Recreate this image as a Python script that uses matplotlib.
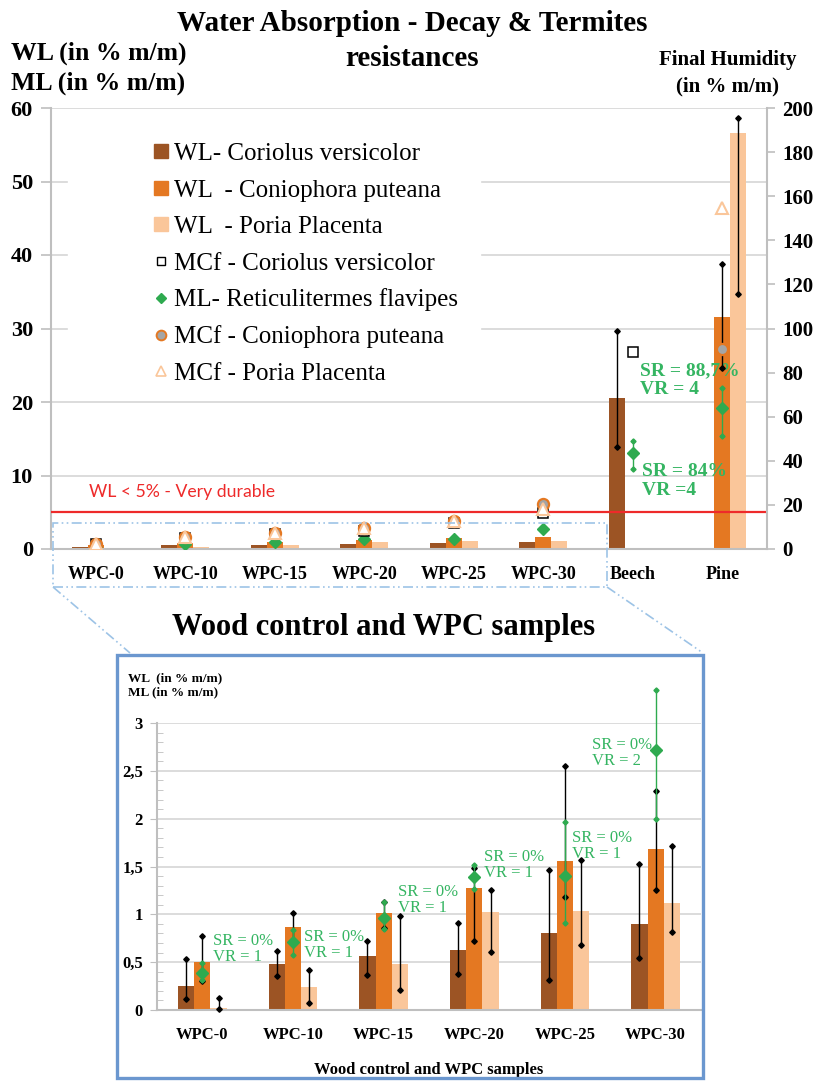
import numpy as np
import matplotlib.pyplot as plt
from matplotlib.lines import Line2D
from matplotlib.patches import Rectangle

# categories and measured values
categories = ['WPC-0', 'WPC-10', 'WPC-15', 'WPC-20', 'WPC-25', 'WPC-30', 'Beech', 'Pine']
nan = np.nan

# weight loss (WL, % m/m) per fungus
wl_coriolus = [0.25, 0.48, 0.56, 0.63, 0.80, 0.90, 20.5, nan]
wl_coniophora = [0.50, 0.87, 1.01, 1.28, 1.56, 1.68, nan, 31.6]
wl_poria = [0.02, 0.24, 0.48, 1.02, 1.04, 1.12, nan, 56.6]

# error bar limits (low / high)
wl_coriolus_lo = [0.115, 0.36, 0.37, 0.38, 0.31, 0.54, 13.9, nan]
wl_coriolus_hi = [0.53, 0.62, 0.72, 0.91, 1.46, 1.53, 29.7, nan]
wl_coniophora_lo = [0.30, 0.73, 0.86, 0.72, 1.18, 1.25, nan, 24.6]
wl_coniophora_hi = [0.77, 1.01, 1.13, 1.48, 2.55, 2.29, nan, 38.8]
wl_poria_lo = [0.01, 0.07, 0.21, 0.61, 0.68, 0.82, nan, 34.7]
wl_poria_hi = [0.13, 0.42, 0.98, 1.25, 1.57, 1.71, nan, 58.6]

# mass loss from termites (ML, % m/m)
ml_termites = [0.39, 0.71, 0.96, 1.39, 1.40, 2.72, 13.0, 19.2]
ml_termites_lo = [0.31, 0.58, 0.85, 1.26, 0.91, 2.00, 10.9, 15.4]
ml_termites_hi = [0.49, 0.84, 1.13, 1.52, 1.97, 3.35, 14.7, 21.9]

# final moisture content (MCf, % m/m), right axis
mcf_coriolus = [2.2, 5.2, 7.0, 8.1, 11.6, 16.4, 89.3, nan]
mcf_coniophora = [2.3, 5.6, 7.4, 9.6, 12.6, 20.6, nan, 90.7]
mcf_poria = [2.3, 5.4, 7.3, 9.5, 12.5, 18.3, nan, 154.7]

# termite test results
sr_vr = ['SR = 0%\nVR = 1', 'SR = 0%\nVR = 1', 'SR = 0%\nVR = 1',
         'SR = 0%\nVR = 1', 'SR = 0%\nVR = 1', 'SR = 0%\nVR = 2',
         'SR = 84%\nVR =4', 'SR = 88,7%\nVR = 4']

durable_limit = 5

series_labels = ['WL- Coriolus versicolor', 'WL  - Coniophora puteana',
                 'WL  - Poria Placenta', 'MCf - Coriolus versicolor',
                 'ML- Reticulitermes flavipes', 'MCf - Coniophora puteana',
                 'MCf - Poria Placenta']

BROWN = '#9c5424'
ORANGE = '#e47822'
LIGHT = '#fac69a'
GREEN = '#2eaa4f'
GREEN_TXT = '#35b562'
RED = '#ee2a2a'
GRID = '#d9d9d9'
AXIS = '#bfbfbf'
SERIF = 'Liberation Serif'

W, H = 819, 1081
plt.rcParams['font.family'] = SERIF


def fx(px):
    return px / W


def fy(py):
    return 1 - py / H


def err(ax, xs, lo, hi, color, ms=2.8, lw=1.0, z=4):
    ax.vlines(xs, lo, hi, color=color, lw=lw, zorder=z, clip_on=False)
    ax.plot(xs, lo, 'D', color=color, ms=ms, ls='none', zorder=z, clip_on=False)
    ax.plot(xs, hi, 'D', color=color, ms=ms, ls='none', zorder=z, clip_on=False)


def style_axes(ax):
    ax.spines['top'].set_visible(False)
    ax.spines['right'].set_visible(False)
    for s in ('left', 'bottom'):
        ax.spines[s].set_color(AXIS)
        ax.spines[s].set_linewidth(1.5)
    ax.yaxis.grid(True, color=GRID, lw=1.3)
    ax.set_axisbelow(True)


fig = plt.figure(figsize=(W / 100, H / 100), dpi=100)

x = np.arange(len(categories))
bw = 0.18
wl_c = np.array(wl_coriolus)
wl_n = np.array(wl_coniophora)
wl_p = np.array(wl_poria)
ml = np.array(ml_termites)

# ---------------- overview chart ----------------
ax = fig.add_axes([fx(51), fy(549), fx(767) - fx(51), fy(108) - fy(549)])
style_axes(ax)
# white legend area hides the grid behind it
ax.add_patch(Rectangle((fx(68), fy(392)), fx(480) - fx(68), fy(125) - fy(392),
                       transform=fig.transFigure, color='white', zorder=1))
ax.bar(x - bw, wl_c, bw, color=BROWN, zorder=2)
ax.bar(x, wl_n, bw, color=ORANGE, zorder=2)
ax.bar(x + bw, wl_p, bw, color=LIGHT, zorder=2)
wood = slice(6, 8)
err(ax, x[wood] - bw, np.array(wl_coriolus_lo)[wood], np.array(wl_coriolus_hi)[wood], 'black')
err(ax, x[wood], np.array(wl_coniophora_lo)[wood], np.array(wl_coniophora_hi)[wood], 'black')
err(ax, x[wood] + bw, np.array(wl_poria_lo)[wood], np.array(wl_poria_hi)[wood], 'black')
err(ax, x[wood], np.array(ml_termites_lo)[wood], np.array(ml_termites_hi)[wood], GREEN, ms=2.6)
ax.axhline(durable_limit, color=RED, lw=1.6, zorder=3)
ax.text(-0.07, durable_limit + 1.6, 'WL < 5% - Very durable', color=RED,
        fontsize=12.7, family='Lato', va='bottom', ha='left',
        transform=ax.transData)
ax.set_xlim(-0.5, 7.5)
ax.set_ylim(0, 60)
ax.set_yticks(np.arange(0, 61, 10))
ax.set_xticks(x)
ax.set_xticklabels(categories, fontsize=13, fontweight='bold')
ax.tick_params(axis='x', length=0, pad=12)
ax.tick_params(axis='y', length=7, color=AXIS, width=1.2, pad=6, labelsize=16)
plt.setp(ax.get_yticklabels(), fontweight='bold')

ax2 = ax.twinx()
ax2.set_ylim(0, 200)
ax2.set_yticks(np.arange(0, 201, 20))
for s in ('top', 'left', 'bottom'):
    ax2.spines[s].set_visible(False)
ax2.spines['right'].set_color(AXIS)
ax2.spines['right'].set_linewidth(1.5)
ax2.tick_params(axis='y', length=6, color=AXIS, width=1.2, pad=5, labelsize=15)
plt.setp(ax2.get_yticklabels(), fontweight='bold')

ax2.plot(x, np.array(ml_termites) * 200 / 60, 'D', color=GREEN, ms=6, ls='none', zorder=5)
ax2.plot(x, mcf_coriolus, 's', mfc='white', mec='black', mew=1.1, ms=7, ls='none', zorder=5)
ax2.plot(x, mcf_coniophora, 'o', mfc='#a5a5a5', mec=ORANGE, mew=1.6, ms=8, ls='none', zorder=5)
ax2.plot(x, mcf_poria, '^', mfc='white', mec=LIGHT, mew=1.5, ms=8, ls='none', zorder=5)

# SR / VR for the solid woods
ax.annotate(sr_vr[6], xy=(x[6], ml[6]), xytext=(7, -20), textcoords='offset points',
            color=GREEN_TXT, fontsize=14, fontweight='bold', va='center', ha='left',
            linespacing=1.15)
ax.annotate(sr_vr[7], xy=(x[7], ml[7]), xytext=(-59, 20), textcoords='offset points',
            color=GREEN_TXT, fontsize=14, fontweight='bold', va='center', ha='left',
            linespacing=1.15)

handles = [
    Line2D([], [], marker='s', ls='none', color=BROWN, ms=10),
    Line2D([], [], marker='s', ls='none', color=ORANGE, ms=10),
    Line2D([], [], marker='s', ls='none', color=LIGHT, ms=10),
    Line2D([], [], marker='s', ls='none', mfc='white', mec='black', mew=1.0, ms=6),
    Line2D([], [], marker='D', ls='none', color=GREEN, ms=5),
    Line2D([], [], marker='o', ls='none', mfc='#a5a5a5', mec=ORANGE, mew=1.4, ms=7),
    Line2D([], [], marker='^', ls='none', mfc='white', mec=LIGHT, mew=1.2, ms=7),
]
ax2.legend(handles, series_labels, loc='upper left', bbox_to_anchor=(fx(130), fy(120)),
           bbox_transform=fig.transFigure, prop={'family': SERIF, 'size': 18},
           frameon=True, facecolor='white', edgecolor='none', framealpha=1,
           handlelength=0.7, handletextpad=0.15, labelspacing=0.56, borderpad=0.4)

fig.text(0.503, fy(10), 'Water Absorption - Decay & Termites\nresistances', ha='center',
         va='top', fontsize=21, fontweight='bold', linespacing=1.4)
fig.text(fx(11), fy(42), 'WL (in % m/m)\nML (in % m/m)', ha='left', va='top',
         fontsize=18.5, fontweight='bold', linespacing=1.35)
fig.text(fx(728), fy(50), 'Final Humidity\n(in % m/m)', ha='center', va='top',
         fontsize=15, fontweight='bold', linespacing=1.45)

# zoom frame and connectors
zoom_ls = (0, (6, 2, 1, 2, 1, 2))
fig.add_artist(Rectangle((fx(53), fy(587)), fx(607) - fx(53), fy(523) - fy(587),
                         transform=fig.transFigure, fill=False, ec='#9dc3e6',
                         lw=1.2, ls=zoom_ls))
fig.add_artist(Line2D([fx(53), fx(130)], [fy(587), fy(653)], transform=fig.transFigure,
                      color='#9dc3e6', lw=1.2, ls=zoom_ls))
fig.add_artist(Line2D([fx(607), fx(703)], [fy(587), fy(653)], transform=fig.transFigure,
                      color='#9dc3e6', lw=1.2, ls=zoom_ls))

fig.text(fx(384), fy(627), 'Wood control and WPC samples', ha='center', va='center',
         fontsize=22, fontweight='bold')

# ---------------- detail chart ----------------
fig.add_artist(Rectangle((fx(117), fy(1078)), fx(703) - fx(117), fy(655) - fy(1078),
                         transform=fig.transFigure, fill=False, ec='#6b97cf', lw=2.4))

n = 6
xb = np.arange(n)
bx = fig.add_axes([fx(157), fy(1010), fx(701) - fx(157), fy(723) - fy(1010)])
style_axes(bx)
bx.bar(xb - bw, wl_c[:n], bw, color=BROWN, zorder=2)
bx.bar(xb, wl_n[:n], bw, color=ORANGE, zorder=2)
bx.bar(xb + bw, wl_p[:n], bw, color=LIGHT, zorder=2)
err(bx, xb - bw, wl_coriolus_lo[:n], wl_coriolus_hi[:n], 'black')
err(bx, xb, wl_coniophora_lo[:n], wl_coniophora_hi[:n], 'black')
err(bx, xb + bw, wl_poria_lo[:n], wl_poria_hi[:n], 'black')
err(bx, xb, ml_termites_lo[:n], ml_termites_hi[:n], GREEN, ms=2.6)
bx.plot(xb, ml[:n], 'D', color=GREEN, ms=6, ls='none', zorder=5)

offsets = [(8, 17), (8, -2), (10, 13), (7, 9), (5, 22), (-46, -2)]
for i in range(n):
    bx.annotate(sr_vr[i], xy=(xb[i], ml[i]), xytext=offsets[i], textcoords='offset points',
                color=GREEN_TXT, fontsize=12, va='center', ha='left', linespacing=1.0)

bx.set_xlim(-0.5, 5.5)
bx.set_ylim(0, 3)
bx.set_yticks(np.arange(0, 3.01, 0.5))
bx.set_yticklabels(['0', '0,5', '1', '1,5', '2', '2,5', '3'], fontsize=12, fontweight='bold')
bx.set_yticks(np.arange(0, 3.01, 0.1), minor=True)
bx.tick_params(axis='y', which='major', length=5, color=AXIS, pad=5)
bx.tick_params(axis='y', which='minor', length=4, color=AXIS, direction='in')
bx.set_xticks(xb)
bx.set_xticklabels(categories[:n], fontsize=12, fontweight='bold')
bx.tick_params(axis='x', length=0, pad=12)
bx.set_xlabel('Wood control and WPC samples', fontsize=12, fontweight='bold', labelpad=14)

fig.text(fx(128), fy(672), 'WL  (in % m/m)\nML (in % m/m)', ha='left', va='top',
         fontsize=9.5, fontweight='bold', linespacing=1.2)

fig.savefig('out.png', dpi=100)
